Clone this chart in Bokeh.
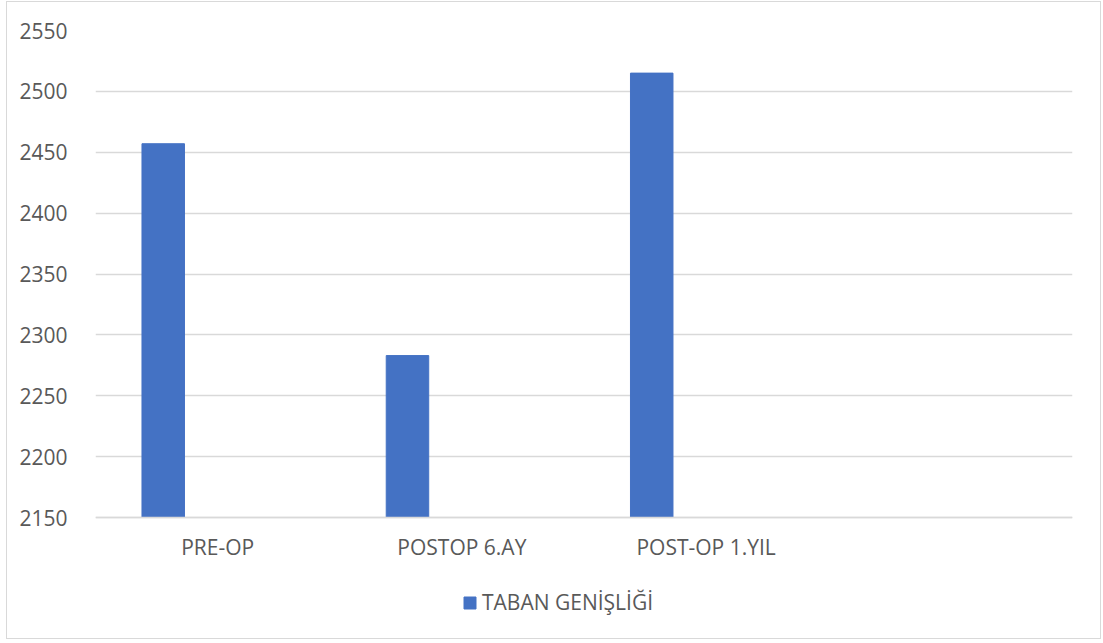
from bokeh.plotting import figure
from bokeh.models import FactorRange, Range1d, SingleIntervalTicker, Legend, LegendItem, ColumnDataSource
from bokeh.transform import dodge
from bokeh.embed import file_html
from bokeh.resources import INLINE

categories = ["PRE-OP", "POSTOP 6.AY", "POST-OP 1.YIL", " "]
bar_categories = ["PRE-OP", "POSTOP 6.AY", "POST-OP 1.YIL"]
taban_genisligi = [2457, 2283, 2515]
series_name = "TABAN GENİŞLİĞİ"
y_min, y_max, y_step = 2150, 2550, 50

FONT = "Open Sans"
TXT = "#595959"
GRID = "#d9d9d9"
BLUE = "#4472C4"

# layout: value area is 487 px tall, the frame continues 121 px further down to hold the legend
AXIS_PX, EXTRA_PX = 487, 121
y_start = y_max - (AXIS_PX + EXTRA_PX) / AXIS_PX * (y_max - y_min)

src = ColumnDataSource(dict(cat=bar_categories, val=taban_genisligi))

p = figure(
    x_range=FactorRange(factors=categories, range_padding=0),
    y_range=Range1d(y_start, y_max),
    frame_width=977, frame_height=AXIS_PX + EXTRA_PX,
    min_border_left=88, min_border_right=28, min_border_top=28, min_border_bottom=0,
    output_backend="svg", toolbar_location=None,
)
p.styles = {"border": "1px solid #d9d9d9", "margin-left": "6px", "margin-top": "1px"}
p.outline_line_color = None
p.background_fill_color = "white"
p.border_fill_color = "white"

r = p.vbar(x=dodge("cat", -0.2227, range=p.x_range), top="val", bottom=y_min, width=0.174,
           source=src, fill_color=BLUE, line_color=BLUE)

p.yaxis.ticker = SingleIntervalTicker(interval=y_step)
p.yaxis.bounds = (y_min, y_max)
p.yaxis.axis_line_color = None
p.yaxis.major_tick_line_color = None
p.yaxis.minor_tick_line_color = None
p.yaxis.major_label_text_font = FONT
p.yaxis.major_label_text_font_size = "21px"
p.yaxis.major_label_text_color = TXT
p.yaxis.major_label_standoff = 22

p.xaxis.fixed_location = y_min
p.xaxis.axis_line_color = GRID
p.xaxis.axis_line_width = 1.5
p.xaxis.major_tick_line_color = None
p.xaxis.minor_tick_line_color = None
p.xaxis.major_label_text_font = FONT
p.xaxis.major_label_text_font_size = "21px"
p.xaxis.major_label_text_color = TXT
p.xaxis.major_label_standoff = 9

p.xgrid.grid_line_color = None
p.ygrid.grid_line_color = GRID
p.ygrid.grid_line_width = 1.5
p.ygrid.bounds = (y_min, y_max)

legend = Legend(items=[LegendItem(label=series_name, renderers=[r])], location=(367, 22),
                orientation="horizontal", border_line_color=None, background_fill_alpha=0,
                label_text_font=FONT, label_text_font_size="21px", label_text_color=TXT,
                glyph_width=15, glyph_height=15, label_standoff=5, margin=0, padding=5)
p.add_layout(legend, "center")

open("out.html", "w").write(file_html(p, INLINE))
